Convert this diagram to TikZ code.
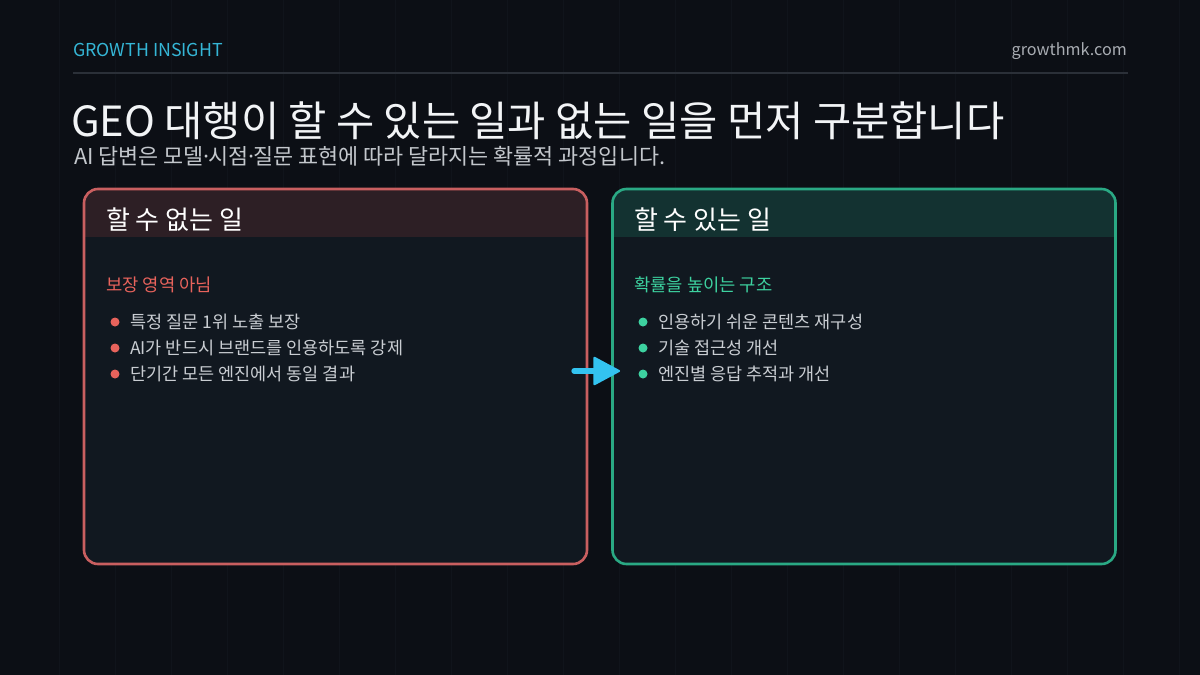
\documentclass[tikz,border=0pt]{standalone}
\usepackage{fontspec}
\setmainfont{Noto Sans CJK KR}
\newfontfamily\kr{Noto Sans CJK KR}
\newfontfamily\lat{Noto Sans CJK KR}
\newcommand\mdot{\kern-0.17em·\kern-0.17em}
\definecolor{bg}{HTML}{0C0F15}
\definecolor{gridc}{HTML}{10141B}
\definecolor{cyanlab}{HTML}{35B6D6}
\definecolor{urlc}{HTML}{A9ADB3}
\definecolor{rulec}{HTML}{2B3038}
\definecolor{titlec}{HTML}{F2F4F6}
\definecolor{subc}{HTML}{C3C7CC}
\definecolor{bodyc}{HTML}{111820}
\definecolor{redline}{HTML}{C95F60}
\definecolor{redhead}{HTML}{2D1F25}
\definecolor{redlab}{HTML}{E8635C}
\definecolor{greenline}{HTML}{2AA984}
\definecolor{greenhead}{HTML}{133231}
\definecolor{greenlab}{HTML}{3DD2A0}
\definecolor{itemc}{HTML}{C9CDD2}
\definecolor{arrowc}{HTML}{33C3F0}
\tikzset{
  panel/.style n args={2}{draw=#1, line width=2.6pt, fill=bodyc, rounded corners=14pt,
    minimum width=503pt, minimum height=375pt, inner sep=0pt,
    path picture={\fill[#2, sharp corners] (path picture bounding box.north west) rectangle ([yshift=-48pt]path picture bounding box.north east);}},
  headtxt/.style={anchor=base west, inner sep=0pt, text=white, font=\kr\fontsize{26}{30}\selectfont},
  labtxt/.style={anchor=base west, inner sep=0pt, text=#1, font=\kr\fontsize{17.7}{20}\selectfont},
  itemtxt/.style={anchor=base west, inner sep=0pt, text=itemc, font=\kr\fontsize{17.5}{20}\selectfont},
  dot/.style={circle, fill=#1, minimum size=9pt, inner sep=0pt},
}
\begin{document}
\begin{tikzpicture}[x=1pt,y=-1pt]
\useasboundingbox (0,0) rectangle (1200,675);
\fill[bg] (0,0) rectangle (1200,675);
\foreach \gx in {59,115,...,1200} {\draw[gridc, line width=0.8pt] (\gx,0) -- (\gx,675);}
% header
\node[anchor=base west, inner sep=0pt, text=cyanlab, font=\lat\fontsize{17.8}{22}\selectfont] (brand) at (73,56) {GROWTH INSIGHT};
\node[anchor=base east, inner sep=0pt, text=urlc, font=\lat\fontsize{16.2}{22}\selectfont] (url) at (1127,55) {growthmk.com};
\draw[rulec, line width=2pt] (73,73) coordinate (r1) -- (1128,73) coordinate (r2);
\node[anchor=base west, inner sep=0pt, text=titlec, font=\kr\fontsize{41.6}{48}\selectfont] (title) at (71,136) {GEO 대행이 할 수 있는 일과 없는 일을 먼저 구분합니다};
\node[anchor=base west, inner sep=0pt, text=subc, font=\kr\fontsize{21.8}{26}\selectfont] (sub) at (74,164) {AI 답변은 모델\mdot 시점\mdot 질문 표현에 따라 달라지는 확률적 과정입니다.};
% panels
\node[panel={redline}{redhead}] (L) at (335.5,376.5) {};
\node[panel={greenline}{greenhead}] (R) at (864,376.5) {};
% left contents
\node[headtxt] (Lh) at (106,229) {할 수 없는 일};
\node[labtxt=redlab] (Ll) at (106,291) {보장 영역 아님};
\node[dot=redlab] (Ld1) at (115,322) {};
\node[dot=redlab] (Ld2) at (115,348) {};
\node[dot=redlab] (Ld3) at (115,374) {};
\node[itemtxt] (Li1) at (130,328) {특정 질문 1위 노출 보장};
\node[itemtxt] (Li2) at (130,354) {AI가 반드시 브랜드를 인용하도록 강제};
\node[itemtxt] (Li3) at (130,380) {단기간 모든 엔진에서 동일 결과};
% right contents
\node[headtxt] (Rh) at (634,229) {할 수 있는 일};
\node[labtxt=greenlab] (Rl) at (634,291) {확률을 높이는 구조};
\node[dot=greenlab] (Rd1) at (643,322) {};
\node[dot=greenlab] (Rd2) at (643,348) {};
\node[dot=greenlab] (Rd3) at (643,374) {};
\node[itemtxt] (Ri1) at (658,328) {인용하기 쉬운 콘텐츠 재구성};
\node[itemtxt] (Ri2) at (658,354) {기술 접근성 개선};
\node[itemtxt] (Ri3) at (658,380) {엔진별 응답 추적과 개선};
% arrow
\coordinate (as) at ([xshift=-14pt,yshift=5.5pt]L.east);
\coordinate (ab) at ([xshift=5pt,yshift=5.5pt]L.east);
\coordinate (at) at ([xshift=10pt,yshift=5.5pt]R.west);
\draw[arrowc, line width=6pt, line cap=round] (as) -- (ab);
\fill[arrowc, rounded corners=2pt] ([yshift=15pt]ab) -- (at) -- ([yshift=-15pt]ab) -- cycle;
\end{tikzpicture}
\end{document}
